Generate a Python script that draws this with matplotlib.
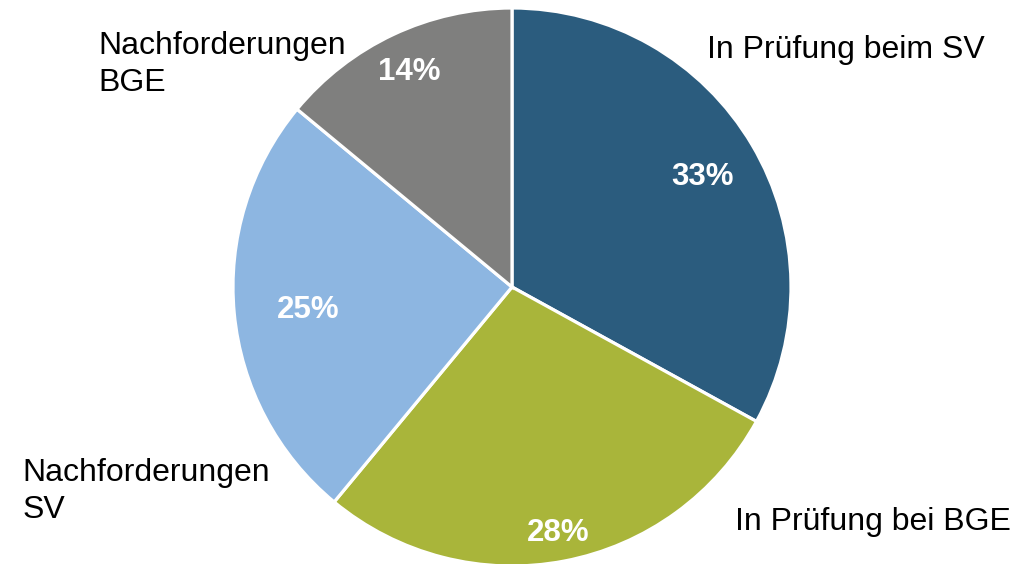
import matplotlib
matplotlib.use("Agg")
import matplotlib.pyplot as plt
import numpy as np

plt.rcParams['font.family'] = ['Liberation Sans', 'DejaVu Sans']

categories = ["In Prüfung beim SV", "In Prüfung bei BGE", "Nachforderungen\nSV", "Nachforderungen\nBGE"]
values = [33, 28, 25, 14]
pct_labels = ["33%", "28%", "25%", "14%"]
colors = ["#2B5C7E", "#A9B53A", "#8DB6E1", "#7F7F7E"]

# layout (in units of pie radius)
pct_dist = [0.795, 0.885, 0.735, 0.865]
label_pos = [(0.699, 0.849), (0.799, -0.842), (-1.756, -0.733), (-1.484, 0.796)]

W, H = 1036, 564
cx, cy, R = 512, 287, 279

fig = plt.figure(figsize=(W / 100, H / 100), dpi=100)
ax = fig.add_axes([0, 0, 1, 1])
wedges, _ = ax.pie(values, colors=colors, startangle=90, counterclock=False,
                   radius=1.0, wedgeprops=dict(edgecolor="white", linewidth=2.3))

for w, lab, d in zip(wedges, pct_labels, pct_dist):
    ang = np.deg2rad((w.theta1 + w.theta2) / 2)
    ax.text(d * np.cos(ang), d * np.sin(ang) - 0.012, lab, ha="center", va="center",
            color="white", fontsize=22.5, fontweight="bold")

for lab, (x, y) in zip(categories, label_pos):
    ax.text(x, y, lab, ha="left", va="center", fontsize=23, color="black",
            linespacing=1.3)

ax.set_xlim(-cx / R, (W - cx) / R)
ax.set_ylim(-(H - cy) / R, cy / R)
ax.set_aspect("equal")
ax.axis("off")

fig.savefig("out.png", dpi=100)
